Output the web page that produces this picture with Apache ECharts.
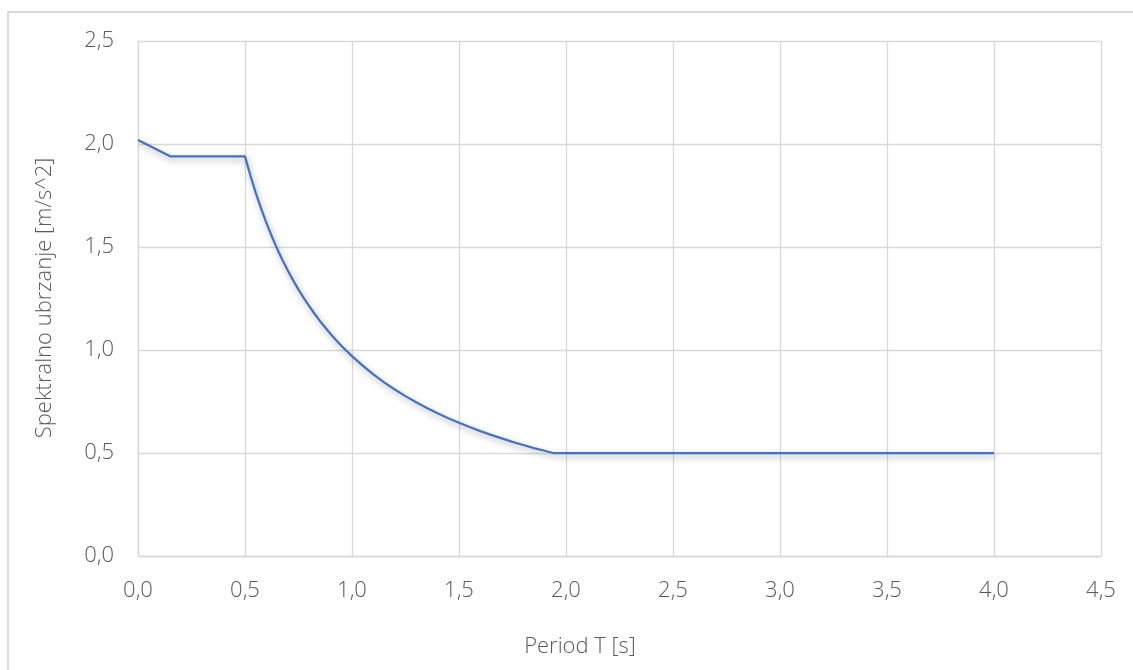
<!DOCTYPE html>
<html>
<head>
<meta charset="utf-8">
<script src="https://cdn.jsdelivr.net/npm/echarts@6/dist/echarts.min.js"></script>
<style>
html,body{margin:0;padding:0;background:#fff;}
#frame{position:absolute;left:7px;top:11px;width:1140px;height:680px;border:2px solid #d9d9d9;box-sizing:border-box;}
#chart{position:absolute;left:0;top:0;width:1133px;height:670px;}
</style>
</head>
<body>
<div id="frame"></div>
<div id="chart"></div>
<script>
// Period T [s]
const periods = [0, 0.15, 0.5, 0.525, 0.55, 0.575, 0.6, 0.625, 0.65, 0.675, 0.7, 0.725, 0.75, 0.775, 0.8, 0.825, 0.85, 0.875, 0.9, 0.925, 0.95, 0.975, 1.0,
                 1.05, 1.1, 1.15, 1.2, 1.25, 1.3, 1.35, 1.4, 1.45, 1.5, 1.55, 1.6, 1.65, 1.7, 1.75, 1.8, 1.85, 1.9, 1.94, 4.0];
// Spectral acceleration [m/s^2]
const accel = [2.02, 1.94, 1.94, 1.848, 1.764, 1.687, 1.617, 1.552, 1.492, 1.437, 1.386, 1.338, 1.293, 1.252, 1.213, 1.176, 1.141, 1.109, 1.078, 1.049, 1.021, 0.995, 0.97,
               0.924, 0.882, 0.843, 0.808, 0.776, 0.746, 0.719, 0.693, 0.669, 0.647, 0.626, 0.606, 0.588, 0.571, 0.554, 0.539, 0.524, 0.511, 0.50, 0.50];
const xTitle = 'Period T [s]';
const yTitle = 'Spektralno ubrzanje [m/s^2]';

const fontFam = '"Open Sans", "Noto Sans", sans-serif';
const txtColor = '#595959';
const fmt = v => v.toFixed(1).replace('.', ',');

const chart = echarts.init(document.getElementById('chart'), null, {renderer: 'canvas'});
chart.setOption({
  animation: false,
  backgroundColor: 'transparent',
  grid: {left: 138, right: 32, top: 41, bottom: 114, containLabel: false},
  xAxis: {
    type: 'value', min: 0, max: 4.5, interval: 0.5,
    axisLine: {show: true, lineStyle: {color: '#d9d9d9', width: 1.3}},
    axisTick: {show: false},
    splitLine: {show: true, lineStyle: {color: '#d9d9d9', width: 1.3}},
    axisLabel: {formatter: fmt, color: txtColor, fontSize: 22, fontFamily: fontFam, fontWeight: 300, margin: 24}
  },
  yAxis: {
    type: 'value', min: 0, max: 2.5, interval: 0.5,
    axisLine: {show: true, lineStyle: {color: '#d9d9d9', width: 1.3}},
    axisTick: {show: false},
    splitLine: {show: true, lineStyle: {color: '#d9d9d9', width: 1.3}},
    axisLabel: {formatter: fmt, color: txtColor, fontSize: 22, fontFamily: fontFam, fontWeight: 300, margin: 24}
  },
  graphic: [
    {type: 'text', x: 580, y: 647, style: {text: xTitle, fill: txtColor, font: '300 22px ' + fontFam, align: 'center', verticalAlign: 'middle'}},
    {type: 'text', x: 45, y: 298, rotation: Math.PI / 2, style: {text: yTitle, fill: txtColor, font: '300 22px ' + fontFam, align: 'center', verticalAlign: 'middle'}}
  ],
  series: [{
    type: 'line',
    data: periods.map((t, i) => [t, accel[i]]),
    showSymbol: false,
    smooth: false,
    lineStyle: {color: '#4472c4', width: 2.25, shadowColor: 'rgba(0,0,0,0.35)', shadowBlur: 6, shadowOffsetX: 1.5, shadowOffsetY: 3}
  }]
});
</script>
</body>
</html>
